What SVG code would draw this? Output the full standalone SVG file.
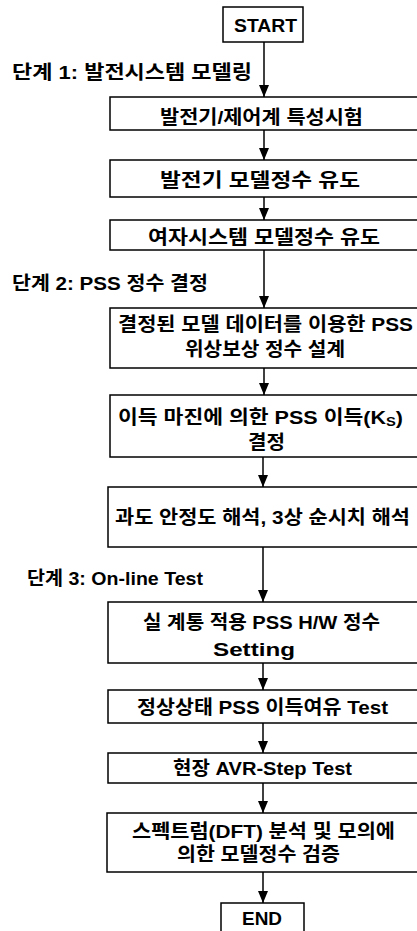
<svg xmlns="http://www.w3.org/2000/svg" width="417" height="931" viewBox="0 0 417 931">
<style>
.box{fill:#fff;stroke:#000;stroke-width:1.5}
.t{font-family:"Liberation Sans","Noto Sans CJK KR",sans-serif;font-weight:bold;font-size:19px;fill:#000;dominant-baseline:central}
.c{stroke:#000;stroke-width:1.5;fill:none;marker-end:url(#arr)}
</style>
<defs>
<marker id="arr" markerUnits="userSpaceOnUse" viewBox="0 0 12 10" refX="12" refY="5" markerWidth="12" markerHeight="11" orient="auto">
<path d="M0,0 L12,5 L0,10 z" fill="#000"/>
</marker>
</defs>
<rect width="417" height="931" fill="#fff"/>
<g id="labels">
<text class="t" x="12" y="72" textLength="240" lengthAdjust="spacingAndGlyphs">단계 1: 발전시스템 모델링</text>
<text class="t" x="12" y="283" textLength="196" lengthAdjust="spacingAndGlyphs">단계 2: PSS 정수 결정</text>
<text class="t" x="27" y="578" textLength="176" lengthAdjust="spacingAndGlyphs">단계 3: On-line Test</text>
</g>
<g id="start">
<rect class="box" x="223" y="7" width="80" height="35"/>
<text class="t" x="234" y="25" textLength="63" lengthAdjust="spacingAndGlyphs">START</text>
</g>
<g id="n1">
<rect class="box" x="110" y="97" width="312" height="33"/>
<text class="t" x="160" y="117" textLength="203" lengthAdjust="spacingAndGlyphs">발전기/제어계 특성시험</text>
</g>
<g id="n2">
<rect class="box" x="110" y="160" width="312" height="37"/>
<text class="t" x="160" y="180" textLength="200" lengthAdjust="spacingAndGlyphs">발전기 모델정수 유도</text>
</g>
<g id="n3">
<rect class="box" x="110" y="220" width="312" height="30"/>
<text class="t" x="148" y="237" textLength="232" lengthAdjust="spacingAndGlyphs">여자시스템 모델정수 유도</text>
</g>
<g id="n4">
<rect class="box" x="110" y="308" width="312" height="60"/>
<text class="t" x="118" y="324" textLength="295" lengthAdjust="spacingAndGlyphs">결정된 모델 데이터를 이용한 PSS</text>
<text class="t" x="185" y="349" textLength="160" lengthAdjust="spacingAndGlyphs">위상보상 정수 설계</text>
</g>
<g id="n5">
<rect class="box" x="110" y="395" width="312" height="62"/>
<text class="t" x="118" y="417" textLength="285" lengthAdjust="spacingAndGlyphs">이득 마진에 의한 PSS 이득(K<tspan font-size="13" dy="4">S</tspan><tspan dy="-4">)</tspan></text>
<text class="t" x="248" y="442" textLength="37" lengthAdjust="spacingAndGlyphs">결정</text>
</g>
<g id="n6">
<rect class="box" x="108" y="487" width="314" height="60"/>
<text class="t" x="115" y="517" textLength="295" lengthAdjust="spacingAndGlyphs">과도 안정도 해석, 3상 순시치 해석</text>
</g>
<g id="n7">
<rect class="box" x="108" y="602" width="314" height="61"/>
<text class="t" x="143" y="622" textLength="237" lengthAdjust="spacingAndGlyphs">실 계통 적용 PSS H/W 정수</text>
<text class="t" x="213" y="649" textLength="82" lengthAdjust="spacingAndGlyphs">Setting</text>
</g>
<g id="n8">
<rect class="box" x="108" y="690" width="314" height="33"/>
<text class="t" x="137" y="707" textLength="251" lengthAdjust="spacingAndGlyphs">정상상태 PSS 이득여유 Test</text>
</g>
<g id="n9">
<rect class="box" x="108" y="753" width="314" height="30"/>
<text class="t" x="173" y="768" textLength="179" lengthAdjust="spacingAndGlyphs">현장 AVR-Step Test</text>
</g>
<g id="n10">
<rect class="box" x="107" y="813" width="315" height="59"/>
<text class="t" x="132" y="831" textLength="263" lengthAdjust="spacingAndGlyphs">스펙트럼(DFT) 분석 및 모의에</text>
<text class="t" x="177" y="854" textLength="163" lengthAdjust="spacingAndGlyphs">의한 모델정수 검증</text>
</g>
<g id="end">
<rect class="box" x="221" y="903" width="83" height="35"/>
<text class="t" x="242" y="918" textLength="40" lengthAdjust="spacingAndGlyphs">END</text>
</g>
<g id="connectors">
<line class="c" x1="264" y1="42" x2="264" y2="97"/>
<line class="c" x1="264" y1="130" x2="264" y2="160"/>
<line class="c" x1="264" y1="197" x2="264" y2="220"/>
<line class="c" x1="264" y1="250" x2="264" y2="308"/>
<line class="c" x1="264" y1="368" x2="264" y2="395"/>
<line class="c" x1="263" y1="457" x2="263" y2="487"/>
<line class="c" x1="263" y1="547" x2="263" y2="602"/>
<line class="c" x1="263" y1="663" x2="263" y2="690"/>
<line class="c" x1="263" y1="723" x2="263" y2="753"/>
<line class="c" x1="263" y1="783" x2="263" y2="813"/>
<line class="c" x1="263" y1="872" x2="263" y2="903"/>
</g>
</svg>
